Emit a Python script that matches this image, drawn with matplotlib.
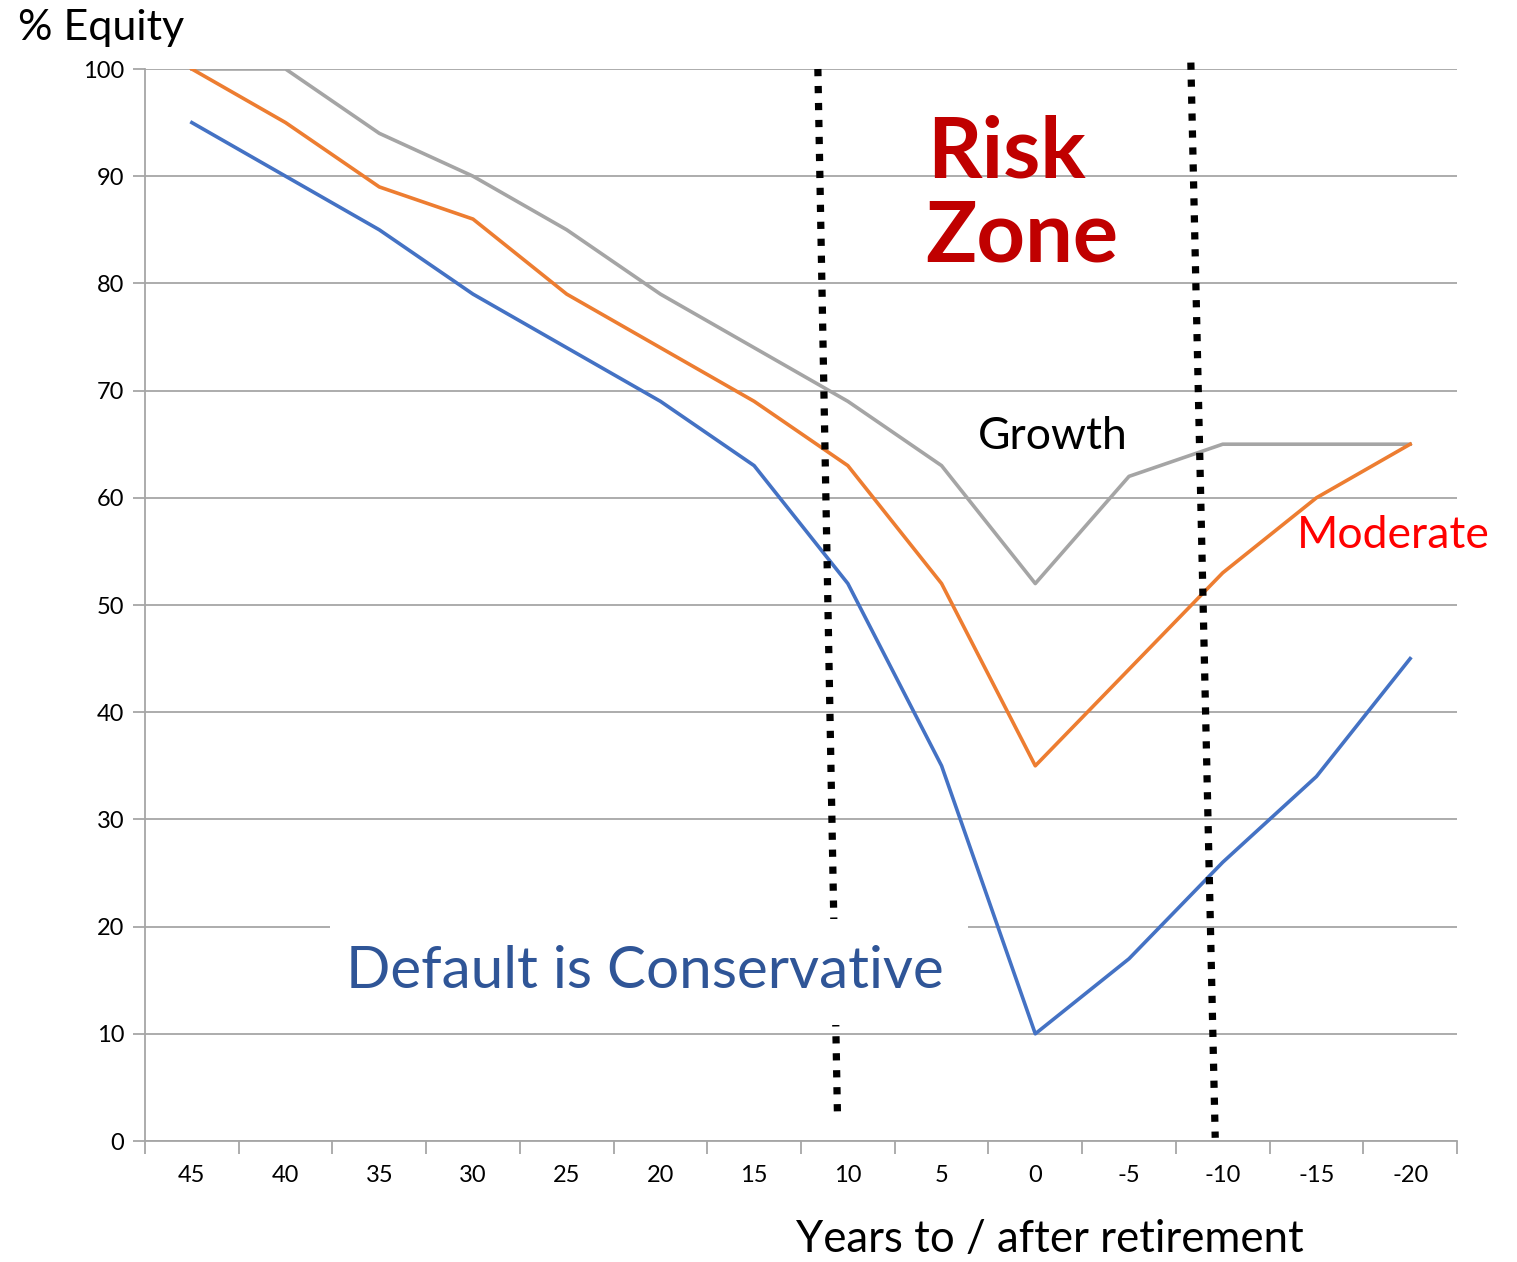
import matplotlib
matplotlib.use('Agg')
import matplotlib.pyplot as plt
from matplotlib.patches import Rectangle
import numpy as np

plt.rcParams['font.family'] = ['Lato', 'DejaVu Sans']

years = ['45', '40', '35', '30', '25', '20', '15', '10', '5', '0', '-5', '-10', '-15', '-20']
conservative = [95, 90, 85, 79, 74, 69, 63, 52, 35, 10, 17, 26, 34, 45]
moderate = [100, 95, 89, 86, 79, 74, 69, 63, 52, 35, 44, 53, 60, 65]
growth = [100, 100, 94, 90, 85, 79, 74, 69, 63, 52, 62, 65, 65, 65]

# risk zone boundaries (category index, slightly slanted hand-drawn lines)
zone_left_x = [6.68, 6.89]
zone_left_y = [100, 2]
zone_right_x = [10.66, 10.92]
zone_right_y = [100.6, 0.3]

fig = plt.figure(figsize=(15.17, 12.62), dpi=100)
ax = fig.add_axes([145 / 1517, 1 - 1141 / 1262, (1457 - 145) / 1517, (1141 - 69) / 1262])

x = np.arange(len(years))
grid_col = '#A6A6A6'

ax.plot(x, growth, color='#A5A5A5', lw=2.6, zorder=3)
ax.plot(x, moderate, color='#ED7D31', lw=2.6, zorder=3)
ax.plot(x, conservative, color='#4472C4', lw=2.6, zorder=3)

dot = dict(color='black', lw=5.2, dashes=(1, 1.35), dash_capstyle='butt', zorder=4, clip_on=False)
ax.plot(zone_left_x, zone_left_y, **dot)
ax.plot(zone_right_x, zone_right_y, **dot)

ax.set_xlim(-0.5, len(years) - 0.5)
ax.set_ylim(0, 100)
ax.set_yticks(range(0, 101, 10))
ax.yaxis.grid(True, color=grid_col, lw=1.3)
ax.set_axisbelow(True)

ax.set_xticks(x)
ax.set_xticklabels(years)
ax.set_xticks(np.arange(-0.5, len(years)), minor=True)
ax.tick_params(axis='x', which='major', length=0, pad=17, labelsize=17)
ax.tick_params(axis='x', which='minor', length=9, width=1.3, color=grid_col, direction='out')
ax.tick_params(axis='y', length=9, width=1.3, color=grid_col, labelsize=17, pad=6)

for s in ['top', 'right']:
    ax.spines[s].set_visible(False)
for s in ['left', 'bottom']:
    ax.spines[s].set_color(grid_col)
    ax.spines[s].set_linewidth(1.3)

# white box behind the default label
ax.add_patch(Rectangle((1.47, 10.8), 6.81, 9.9, facecolor='white', edgecolor='none', zorder=5))
ax.text(4.83, 15.8, 'Default is Conservative', color='#2F5597', fontsize=42,
        ha='center', va='center', zorder=6)

ax.text(7.85, 92.2, 'Risk', color='#C00000', fontsize=61, fontweight='bold',
        ha='left', va='center', zorder=6)
ax.text(7.83, 84.3, 'Zone', color='#C00000', fontsize=61, fontweight='bold',
        ha='left', va='center', zorder=6)

ax.text(8.39, 65.7, 'Growth', color='black', fontsize=32, ha='left', va='center', zorder=6)
ax.text(11.79, 56.5, 'Moderate', color='#FF0000', fontsize=32, ha='left', va='center',
        zorder=6, clip_on=False)

fig.text(18 / 1517, 1 - 28 / 1262, '% Equity', fontsize=31, ha='left', va='center')
fig.text(1050 / 1517, 1 - 1240 / 1262, 'Years to / after retirement', fontsize=31.5,
         ha='center', va='center')

fig.savefig('out.png', dpi=100, facecolor='white')
